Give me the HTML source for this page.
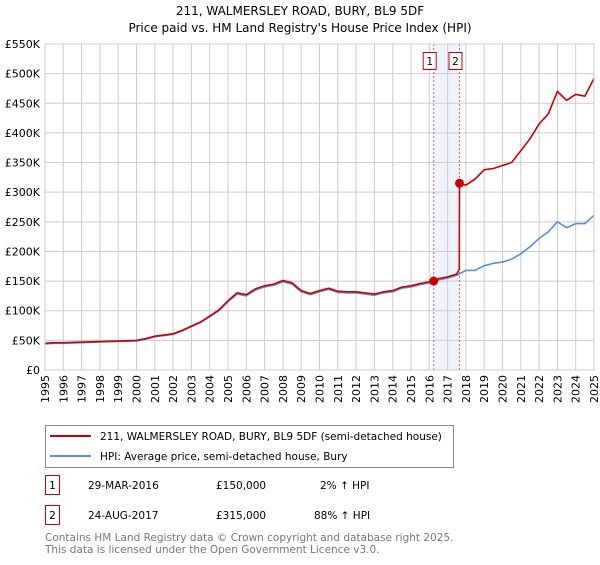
<!DOCTYPE html>
<html><head><meta charset="utf-8"><style>
body{margin:0;width:600px;height:560px;background:#fff;font-family:"Liberation Sans","DejaVu Sans",sans-serif;overflow:hidden}
svg text{font-family:"DejaVu Sans","Liberation Sans",sans-serif}
</style></head><body>
<svg id="chart" width="600" height="560" xmlns="http://www.w3.org/2000/svg">
<text x="300" y="15" font-size="12" text-anchor="middle">211, WALMERSLEY ROAD, BURY, BL9 5DF</text>
<text x="300" y="32" font-size="12" text-anchor="middle">Price paid vs. HM Land Registry's House Price Index (HPI)</text>
<g id="grid"></g><g id="marks"></g><g id="axes"></g>
<g>
<rect x="45.5" y="425.5" width="408" height="42" fill="#fff" stroke="#888"/>
<line x1="50" y1="436" x2="91" y2="436" stroke="#cc0000" stroke-width="2"/>
<text x="100" y="440" font-size="10.5">211, WALMERSLEY ROAD, BURY, BL9 5DF (semi-detached house)</text>
<line x1="50" y1="456" x2="91" y2="456" stroke="#5b8fd4" stroke-width="2"/>
<text x="100" y="460" font-size="10.5">HPI: Average price, semi-detached house, Bury</text>
</g>
<g font-size="10.5">
<rect x="45.5" y="475.5" width="14" height="19" fill="#fff" stroke="#cc0000"/>
<text x="52.5" y="489" text-anchor="middle">1</text>
<text x="88" y="489">29-MAR-2016</text><text x="216" y="489">£150,000</text><text x="320" y="489">2% ↑ HPI</text>
<rect x="45.5" y="505.5" width="14" height="19" fill="#fff" stroke="#cc0000"/>
<text x="52.5" y="519" text-anchor="middle">2</text>
<text x="88" y="519">24-AUG-2017</text><text x="216" y="519">£315,000</text><text x="314" y="519">88% ↑ HPI</text>
</g>
<text x="45" y="541" font-size="10.5" fill="#777">Contains HM Land Registry data © Crown copyright and database right 2025.</text>
<text x="45" y="553" font-size="10.5" fill="#777">This data is licensed under the Open Government Licence v3.0.</text>
</svg>
<script>
const yTicks=[0,50,100,150,200,250,300,350,400,450,500,550];
const yearTicks=[1995,1996,1997,1998,1999,2000,2001,2002,2003,2004,2005,2006,2007,2008,2009,2010,2011,2012,2013,2014,2015,2016,2017,2018,2019,2020,2021,2022,2023,2024,2025];
const hpiDates=[1995,1995.5,1996,1997,1998,1999,2000,2000.5,2001,2002,2002.5,2003,2003.5,2004,2004.5,2005,2005.5,2006,2006.5,2007,2007.5,2008,2008.5,2009,2009.5,2010,2010.5,2011,2011.5,2012,2012.5,2013,2013.5,2014,2014.5,2015,2015.5,2016,2016.5,2017,2017.5,2018,2018.5,2019,2019.5,2020,2020.5,2021,2021.5,2022,2022.5,2023,2023.5,2024,2024.5,2025];
const hpiValues=[44,45,45,46,47,48,49,52,56,60,66,73,80,90,100,115,128,125,135,140,143,149,145,132,127,132,136,131,130,130,128,126,130,132,138,140,144,147,152,155,160,168,168,176,180,182,187,196,208,222,233,250,240,247,247,261];
const redDates=[1995,1995.5,1996,1997,1998,1999,2000,2000.5,2001,2002,2002.5,2003,2003.5,2004,2004.5,2005,2005.5,2006,2006.5,2007,2007.5,2008,2008.5,2009,2009.5,2010,2010.5,2011,2011.5,2012,2012.5,2013,2013.5,2014,2014.5,2015,2015.5,2016.24,2016.5,2017,2017.5,2017.64,2017.65,2018,2018.5,2019,2019.5,2020,2020.5,2021,2021.5,2022,2022.5,2023,2023.5,2024,2024.5,2025];
const redValues=[45,46,46,47,48,49,50,53,57,61,67,74,81,91,101,117,130,127,137,142,145,151,147,134,129,134,138,133,132,132,130,128,132,134,140,142,146,150,154,157,162,170,315,312,322,338,340,345,350,370,390,415,432,470,455,465,462,492];
const sales=[{d:2016.24,v:150,label:"1"},{d:2017.65,v:315,label:"2"}];
const NS="http://www.w3.org/2000/svg";
const L=45,R=594,T=44,B=370;
function xs(d){return L+(d-1995)/30*(R-L);}
function ys(v){return B-v/550*(B-T);}
function mk(t,a,p){const e=document.createElementNS(NS,t);for(const k in a)e.setAttribute(k,a[k]);p.appendChild(e);return e;}
const grid=document.getElementById('grid'),marks=document.getElementById('marks'),axes=document.getElementById('axes');
const shade=mk('rect',{x:xs(sales[0].d),y:T,width:xs(sales[1].d)-xs(sales[0].d),height:B-T,fill:'#eef3fc'},grid);


yTicks.forEach(v=>{
 const g=mk('line',{x1:L,x2:R,y1:ys(v),y2:ys(v),stroke:'#ccc'},grid);
 
 
 const t=mk('text',{x:L-5,y:ys(v)+4,'font-size':11,'text-anchor':'end'},axes);
 t.textContent=v===0?'£0':'£'+v+'K';
 
 
});
yearTicks.forEach(y=>{
 const g=mk('line',{x1:xs(y),x2:xs(y),y1:T,y2:B,stroke:'#ccc'},grid);
 
 
 const t=mk('text',{x:0,y:0,'font-size':11,'text-anchor':'end',transform:`translate(${xs(y)+4},${B+5}) rotate(-90)`},axes);
 t.textContent=y;
 
 
});
const frame=mk('rect',{x:L,y:T,width:R-L,height:B-T,fill:'none',stroke:'#ccc'},axes);


sales.forEach(s=>{
 const l=mk('line',{x1:xs(s.d),x2:xs(s.d),y1:T,y2:B,stroke:'#e06060','stroke-dasharray':'2,2'},marks);
 
 
});
function path(ds,vs,col,name){
 const p=mk('path',{d:ds.map((d,i)=>(i?'L':'M')+xs(d).toFixed(1)+','+ys(vs[i]).toFixed(1)).join(''),fill:'none',stroke:col,'stroke-width':1.6},marks);
 
 
}
path(hpiDates,hpiValues,'#5b8fd4','hpi-line');
path(redDates,redValues,'#cc0000','property-price-line');
sales.forEach(s=>{
 const c=mk('circle',{cx:xs(s.d),cy:ys(s.v),r:4.5,fill:'#cc0000'},marks);
 
 
 const b=mk('rect',{x:xs(s.d)-10.5,y:52.5,width:13,height:17,fill:'#fff',stroke:'#cc0000'},marks);
 
 
 const t=mk('text',{x:xs(s.d)-4,y:65,'font-size':10.5,'text-anchor':'middle'},marks);
 t.textContent=s.label;
 
 
});
</script>
</body></html>
